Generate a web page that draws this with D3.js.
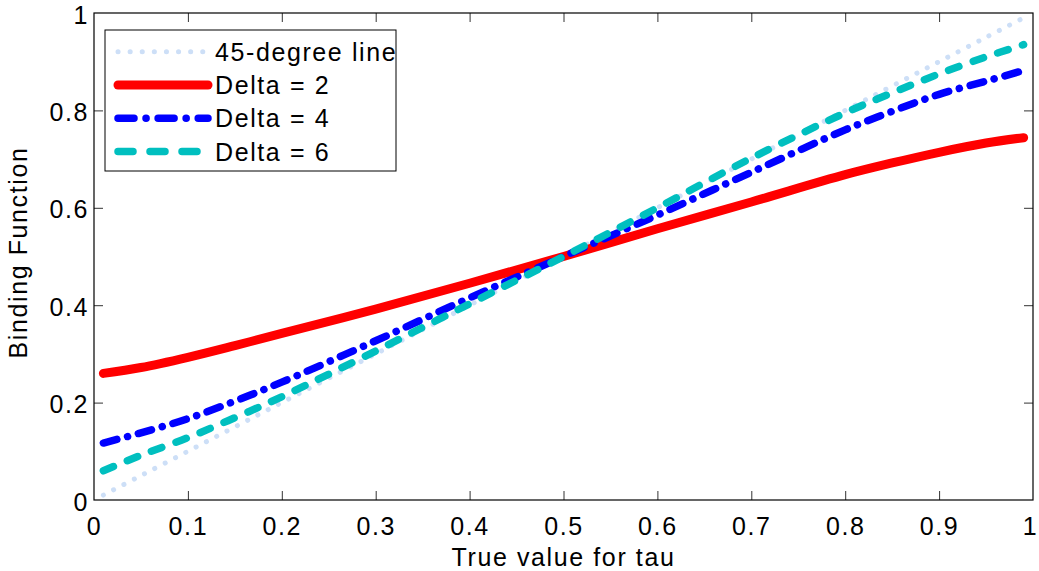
<!DOCTYPE html>
<html>
<head>
<meta charset="utf-8">
<script src="https://cdn.jsdelivr.net/npm/d3@7"></script>
<style>
  body { margin: 0; background: #fff; }
  text { font-family: 'Liberation Sans', Arial, sans-serif; font-size: 25px; letter-spacing: 1.6px; fill: #000; }
</style>
</head>
<body>
<div class="chart"></div>
<script>
const tau = [0.01, 0.05, 0.1, 0.15, 0.2, 0.3, 0.4, 0.5, 0.6, 0.7, 0.8, 0.85, 0.9, 0.95, 0.99]
const line45 = [0.01, 0.05, 0.1, 0.15, 0.2, 0.3, 0.4, 0.5, 0.6, 0.7, 0.8, 0.85, 0.9, 0.95, 0.99]
const delta2 = [0.260, 0.272, 0.293, 0.317, 0.342, 0.392, 0.445, 0.500, 0.557, 0.612, 0.668, 0.692, 0.714, 0.733, 0.744]
const delta4 = [0.117, 0.138, 0.167, 0.203, 0.242, 0.327, 0.415, 0.500, 0.585, 0.673, 0.760, 0.798, 0.833, 0.860, 0.882]
const delta6 = [0.060, 0.092, 0.128, 0.169, 0.212, 0.306, 0.403, 0.500, 0.600, 0.702, 0.795, 0.836, 0.875, 0.910, 0.935]
const seriesNames = ['45-degree line', 'Delta = 2', 'Delta = 4', 'Delta = 6']
const xTicks = [0, 0.1, 0.2, 0.3, 0.4, 0.5, 0.6, 0.7, 0.8, 0.9, 1]
const yTicks = [0, 0.2, 0.4, 0.6, 0.8, 1]

const W = 1039, H = 571
const margin = { top: 13, right: 6, bottom: 71, left: 94 }
const width = W - margin.left - margin.right
const height = H - margin.top - margin.bottom

const styles = [
  { color: '#cddff7', w: 5, dash: '0.1,11.5', legendDash: '0.1,12' },
  { color: '#ff0000', w: 9, dash: null, legendDash: null },
  { color: '#0000ff', w: 7.5, dash: '14,11,0.1,11', legendDash: '16,12,0.1,12' },
  { color: '#00bfbf', w: 7.5, dash: '11,15', legendDash: '15,17' }
]
const series = [line45, delta2, delta4, delta6]

const svg = d3.select('.chart').append('svg')
  .attr('width', W).attr('height', H)

const g = svg.append('g').attr('transform', `translate(${margin.left},${margin.top})`)

const x = d3.scaleLinear().domain([0, 1]).range([0, width])
const y = d3.scaleLinear().domain([0, 1]).range([height, 0])

// lines
const line = d3.line().x(d => x(d[0])).y(d => y(d[1])).curve(d3.curveCatmullRom.alpha(0.5))
series.forEach((vals, i) => {
  const s = styles[i]
  g.append('path')
    .datum(tau.map((t, j) => [t, vals[j]]))
    .attr('d', line)
    .attr('fill', 'none')
    .attr('stroke', s.color)
    .attr('stroke-width', s.w)
    .attr('stroke-linecap', 'round')
    .attr('stroke-linejoin', 'round')
    .attr('stroke-dasharray', s.dash)
})

// axes (box with inward ticks on every side)
const tickLen = 9
const axisStyle = sel => {
  sel.select('.domain').remove()
  sel.selectAll('.tick line').attr('stroke', '#333')
}
g.append('g').attr('transform', `translate(0,${height})`)
  .call(d3.axisBottom(x).tickValues(xTicks).tickSize(-tickLen).tickPadding(17).tickFormat(d3.format('')))
  .call(axisStyle)
  .selectAll('text').attr('font-size', null).attr('font-family', null).attr('dx', d => d === 1 ? -3 : 0)
g.append('g')
  .call(d3.axisTop(x).tickValues(xTicks).tickSize(-tickLen).tickFormat(''))
  .call(axisStyle)
g.append('g')
  .call(d3.axisLeft(y).tickValues(yTicks).tickSize(-tickLen).tickPadding(5).tickFormat(d3.format('')))
  .call(axisStyle)
  .selectAll('text').attr('font-size', null).attr('font-family', null).attr('dy', '0.4em')
g.append('g').attr('transform', `translate(${width},0)`)
  .call(d3.axisRight(y).tickValues(yTicks).tickSize(-tickLen).tickFormat(''))
  .call(axisStyle)
g.selectAll('.tick line').filter(function () {
  return d3.select(this.parentNode).datum() === 0 || d3.select(this.parentNode).datum() === 1
}).remove()
g.selectAll('.tick text').attr('fill', '#000')

g.append('rect')
  .attr('width', width).attr('height', height)
  .attr('fill', 'none').attr('stroke', '#000').attr('stroke-width', 1.2)

// axis titles
svg.append('text')
  .attr('x', margin.left + width / 2).attr('y', 566)
  .attr('text-anchor', 'middle')
  .text('True value for tau')
svg.append('text')
  .attr('transform', `translate(27,${margin.top + height / 2 - 4}) rotate(-90)`)
  .attr('text-anchor', 'middle')
  .text('Binding Function')

// legend
const legend = svg.append('g').attr('transform', 'translate(105,30)')
legend.append('rect')
  .attr('width', 291).attr('height', 141)
  .attr('fill', '#fff').attr('stroke', '#000').attr('stroke-width', 1)
seriesNames.forEach((name, i) => {
  const s = styles[i]
  const cy = 21.7 + i * 33.3
  legend.append('line')
    .attr('x1', 13).attr('x2', 103).attr('y1', cy).attr('y2', cy)
    .attr('stroke', s.color)
    .attr('stroke-width', s.w)
    .attr('stroke-linecap', 'round')
    .attr('stroke-dasharray', s.legendDash)
  legend.append('text')
    .attr('x', 110).attr('y', cy).attr('dy', '0.36em')
    .text(name)
})
</script>
</body>
</html>
